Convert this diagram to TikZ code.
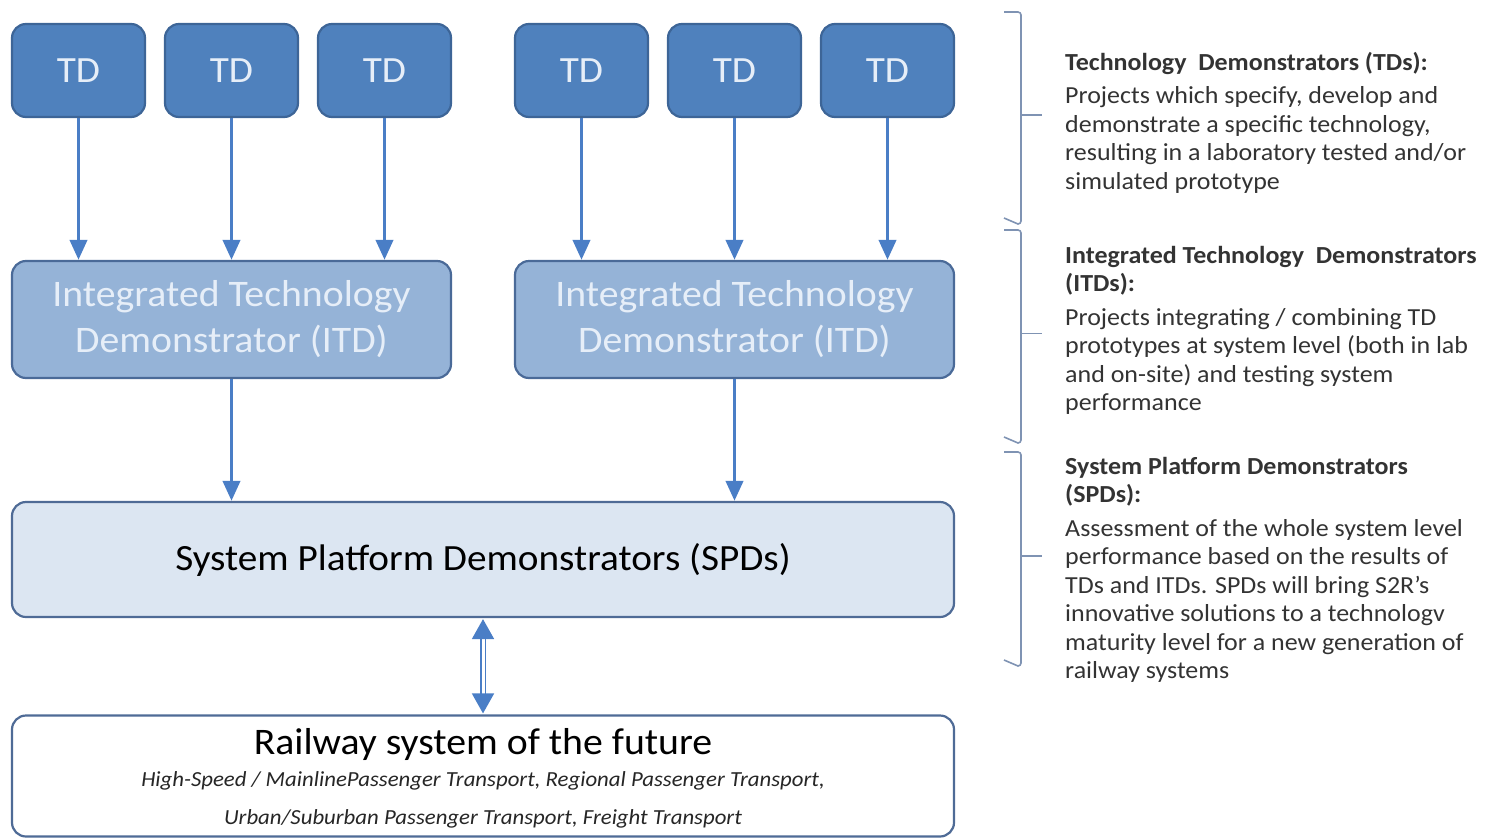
\documentclass[tikz,border=0pt]{standalone}
\usepackage{fontspec}
\setmainfont{Carlito}[FakeStretch=1.06]
\usetikzlibrary{arrows.meta,calc}
\definecolor{tdfill}{HTML}{4F81BD}
\definecolor{tdline}{HTML}{3D6597}
\definecolor{itdfill}{HTML}{95B3D7}
\definecolor{itdline}{HTML}{4A6A98}
\definecolor{spdfill}{HTML}{DCE6F2}
\definecolor{boxline}{HTML}{4F6B96}
\definecolor{arrowc}{HTML}{4A7EC6}
\definecolor{lighttext}{HTML}{E6EEF8}
\definecolor{brk}{HTML}{7F93B3}
\definecolor{sidetext}{HTML}{333333}
\tikzset{
  tdbox/.style={draw=tdline, line width=2.2pt, fill=tdfill, rounded corners=14pt, minimum width=133pt, minimum height=93pt, text=lighttext, font=\fontsize{37}{40}\selectfont, anchor=center},
  itdbox/.style={draw=itdline, line width=2.2pt, fill=itdfill, rounded corners=14pt, minimum width=439pt, minimum height=117pt, text=lighttext, font=\fontsize{37.5}{46}\selectfont, align=center},
  wide/.style={draw=boxline, line width=2.2pt, rounded corners=14pt, minimum width=942pt},
  arr/.style={draw=arrowc, line width=3.8pt, -{Triangle[width=17pt,length=20pt]}},
  darr/.style={draw=arrowc, double=white, double distance=3pt, line width=1.8pt, {Triangle[width=22pt,length=20pt]}-{Triangle[width=22pt,length=20pt]}, shorten <=1pt, shorten >=1pt},
  bracket/.style={draw=brk, line width=1.6pt},
  side/.style={anchor=north west, align=left, text=sidetext, font=\fontsize{24.5}{28.5}\selectfont, inner sep=0pt}
}
\begin{document}
\begin{tikzpicture}[x=1pt,y=-1pt]
\useasboundingbox (0,0) rectangle (1485,838);
% TD boxes
\node[tdbox] (td1) at (78.5,70.5) {TD};
\node[tdbox] (td2) at (231.5,70.5) {TD};
\node[tdbox] (td3) at (384.5,70.5) {TD};
\node[tdbox] (td4) at (581.5,70.5) {TD};
\node[tdbox] (td5) at (734.5,70.5) {TD};
\node[tdbox] (td6) at (887.5,70.5) {TD};
% ITD boxes
\node[itdbox] (itd1) at (231.5,319.5) {Integrated Technology\\Demonstrator (ITD)};
\node[itdbox] (itd2) at (734.5,319.5) {Integrated Technology\\Demonstrator (ITD)};
% SPD
\node[wide, fill=spdfill, minimum height=115pt, font=\fontsize{37}{40}\selectfont] (spd) at (483,559.5) {System Platform Demonstrators (SPDs)};
% Railway
\node[wide, fill=white, minimum height=121pt, inner sep=0pt] (rail) at (483,776) {};
\node[font=\fontsize{37.5}{40}\selectfont] (railt) at (483,744) {Railway system of the future};
\node[font=\fontsize{21.5}{24}\itshape\selectfont, text=black!85] (rail1) at (483,781) {High-Speed / MainlinePassenger Transport, Regional Passenger Transport,};
\node[font=\fontsize{21.5}{24}\itshape\selectfont, text=black!85] (rail2) at (483,819) {Urban/Suburban Passenger Transport, Freight Transport};
% arrows TD -> ITD
\foreach \i/\j in {td1/itd1,td2/itd1,td3/itd1,td4/itd2,td5/itd2,td6/itd2}{
  \draw[arr] (\i.south) -- (\i.south |- \j.north);
}
\draw[arr] (itd1.south) -- (itd1.south |- spd.north);
\draw[arr] (itd2.south) -- (itd2.south |- spd.north);
\draw[darr] (spd.south) -- (rail.north);
% brackets
\coordinate (b1t) at (1021,12);
\coordinate (b1b) at (1021,218);
\coordinate (b2t) at (1021,230);
\coordinate (b2b) at (1021,437);
\coordinate (b3t) at (1021,452);
\coordinate (b3b) at (1021,660);
\foreach \t/\b in {b1t/b1b,b2t/b2b,b3t/b3b}{
  \draw[bracket] ([xshift=-17pt]\t) -- ([xshift=-3pt]\t) arc[start angle=90,end angle=0,radius=3pt]
     -- ([yshift=-3pt]\b) arc[start angle=0,end angle=-90,radius=3pt] -- ([xshift=-17pt]\b);
  \draw[bracket] ($(\t)!0.5!(\b)$) -- ++(21,0);
}
% side texts
\node[side] (s1) at (1065,52) {\textbf{Technology\ \ Demonstrators (TDs):}\\[5pt]
Projects which specify, develop and\\demonstrate a specific technology,\\resulting in a laboratory tested and/or\\simulated prototype};
\node[side] (s2) at (1065,246) {\textbf{Integrated Technology\ \ Demonstrators}\\\textbf{(ITDs):}\\[5pt]
Projects integrating / combining TD\\prototypes at system level (both in lab\\and on-site) and testing system\\performance};
\node[side] (s3) at (1065,457) {\textbf{System Platform Demonstrators}\\\textbf{(SPDs):}\\[5pt]
Assessment of the whole system level\\performance based on the results of\\TDs and ITDs. SPDs will bring S2R's\\innovative solutions to a technologv\\maturity level for a new generation of\\railway systems};
\end{tikzpicture}
\end{document}
